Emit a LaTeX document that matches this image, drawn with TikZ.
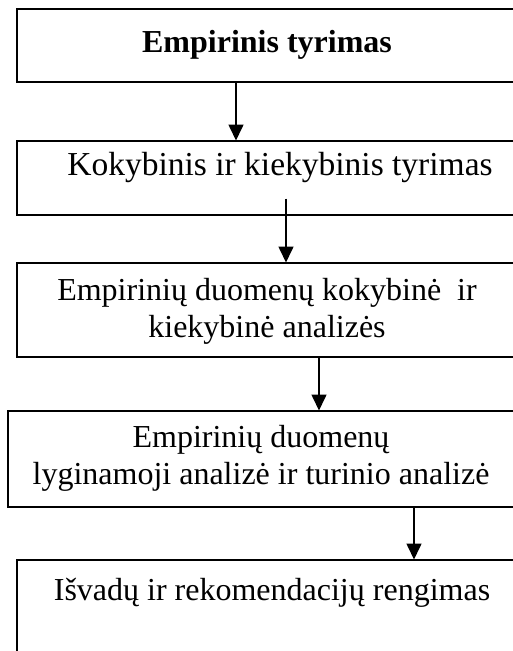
\documentclass[tikz,border=0pt]{standalone}
\usepackage{fontspec}
\setmainfont{Liberation Serif}
\usetikzlibrary{arrows.meta}
\begin{document}
\begin{tikzpicture}[x=1pt,y=-1pt,
  box/.style={draw, line width=1.6pt, rectangle, anchor=north west, inner sep=0pt, minimum width=510pt},
  lbl/.style={anchor=base, inner sep=0pt, align=center, font=\fontsize{32}{37}\selectfont},
  arr/.style={line width=1.6pt, -{Triangle[length=16pt,width=15pt]}, shorten >=-0.5pt}]
\useasboundingbox (0,0) rectangle (513,651);
\begin{scope}
\clip (0,0) rectangle (513,651);
\node[box, minimum height=73pt] (b1) at (16,8) {};
\node[box, minimum height=74pt] (b2) at (16,140) {};
\node[box, minimum height=94pt] (b3) at (16,262) {};
\node[box, minimum height=96pt] (b4) at (7,410) {};
\node[box, minimum height=120pt] (b5) at (16,559) {};
\end{scope}
\node[lbl, font=\fontsize{32}{37}\selectfont\bfseries] (t1) at (267,52) {Empirinis tyrimas};
\node[lbl, font=\fontsize{33.5}{37}\selectfont] (t2) at (280,175) {Kokybinis ir kiekybinis tyrimas};
\node[lbl] (t3) at (267,337) {Empirinių duomenų kokybinė\ \ ir\\kiekybinė analizės};
\node[lbl] (t4) at (261,484) {Empirinių duomenų\\lyginamoji analizė ir turinio analizė};
\node[lbl] (t5) at (272,600) {Išvadų ir rekomendacijų rengimas};
\draw[arr] ([xshift=220pt]b1.south west) -- ([xshift=220pt]b2.north west);
\draw[arr] ([xshift=270pt,yshift=17pt]b2.south west) -- ([xshift=270pt]b3.north west);
\draw[arr] ([xshift=303pt]b3.south west) -- ([xshift=312pt]b4.north west);
\draw[arr] ([xshift=407pt]b4.south west) -- ([xshift=398pt]b5.north west);
\end{tikzpicture}
\end{document}
